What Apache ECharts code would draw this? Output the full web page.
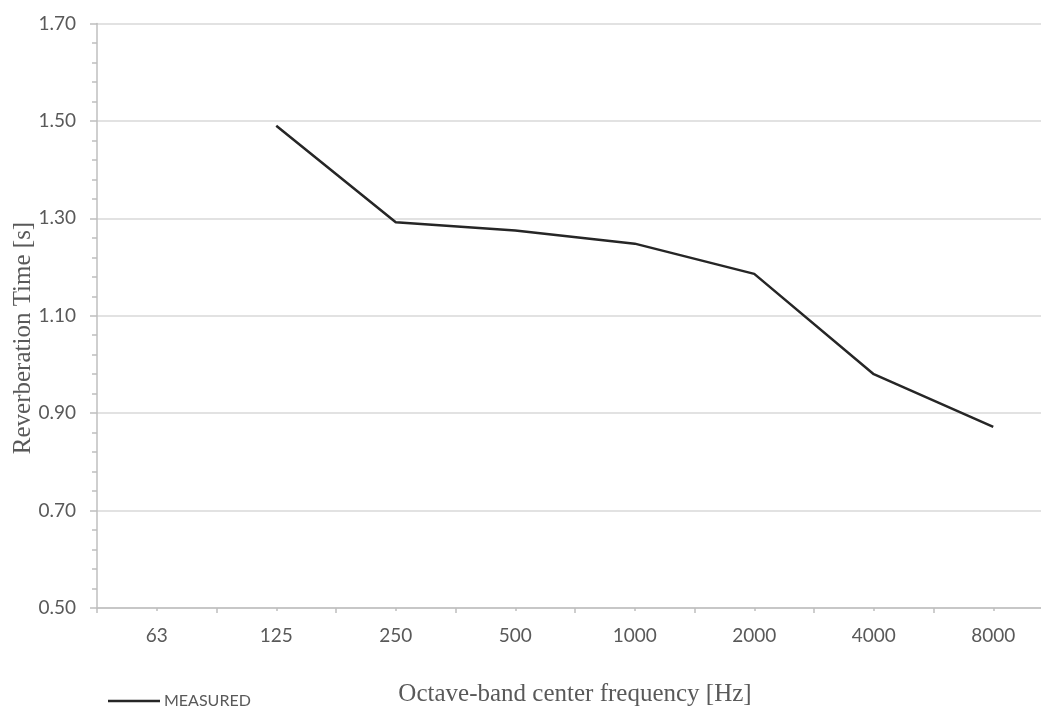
<!DOCTYPE html>
<html>
<head>
<meta charset="utf-8">
<title>Reverberation Time</title>
<script src="https://cdn.jsdelivr.net/npm/echarts@6/dist/echarts.min.js"></script>
<style>
  html, body { margin: 0; padding: 0; background: #ffffff; overflow: hidden; }
  #chart { width: 1041px; height: 708px; }
</style>
</head>
<body>
<div id="chart"></div>
<script>
// Octave-band centre frequencies (Hz)
const bands = ['63', '125', '250', '500', '1000', '2000', '4000', '8000'];
// Measured reverberation time per band (s); no reading at 63 Hz
const measured = [null, 1.49, 1.292, 1.275, 1.248, 1.186, 0.98, 0.872];
// Value axis range
const yMin = 0.5, yMax = 1.7, yStep = 0.2;

const labelFont = 'Lato, "Open Sans", sans-serif';
const titleFont = '"Liberation Serif", "DejaVu Serif", serif';
const textColor = '#595959';

const chart = echarts.init(document.getElementById('chart'), null, { renderer: 'canvas' });

chart.setOption({
  animation: false,
  backgroundColor: '#ffffff',
  // plot runs a little past the right edge of the canvas
  grid: {
    left: 97, width: 956, top: 23.5, height: 584.5,
    containLabel: false, outerBoundsMode: 'none'
  },
  legend: {
    data: ['MEASURED'],
    left: 103, top: 688,
    icon: 'rect', itemWidth: 52, itemHeight: 2.5, itemGap: 6,
    textStyle: { fontFamily: labelFont, fontSize: 16, color: textColor, padding: [0, 0, 0, -1] }
  },
  xAxis: [
    {
      type: 'category',
      data: bands,
      boundaryGap: true,
      axisLine: { lineStyle: { color: '#bfbfbf', width: 1.5 } },
      axisTick: { show: true, length: 5, lineStyle: { color: '#bfbfbf', width: 1.5 } },
      axisLabel: { margin: 18, fontFamily: labelFont, fontSize: 19, color: textColor },
      splitLine: { show: false },
      name: 'Octave-band center frequency [Hz]',
      nameLocation: 'middle',
      nameGap: 74,
      nameTextStyle: { fontFamily: titleFont, fontSize: 25, color: textColor }
    },
    {
      // second copy of the band axis that only draws the short ticks under each label
      type: 'category',
      data: bands,
      position: 'bottom',
      boundaryGap: true,
      axisLine: { show: false },
      axisTick: { show: true, alignWithLabel: true, length: 3, lineStyle: { color: '#bfbfbf', width: 1.5 } },
      axisLabel: { show: false },
      splitLine: { show: false }
    }
  ],
  yAxis: {
    type: 'value',
    min: yMin, max: yMax, interval: yStep,
    axisLine: { show: true, lineStyle: { color: '#bfbfbf', width: 1.5 } },
    axisTick: { show: true, length: 7, lineStyle: { color: '#bfbfbf', width: 1.5 } },
    minorTick: { show: true, splitNumber: 5, length: 5, lineStyle: { color: '#bfbfbf', width: 1.5 } },
    axisLabel: {
      margin: 21, fontFamily: labelFont, fontSize: 19, color: textColor,
      formatter: v => v.toFixed(2)
    },
    splitLine: { show: true, lineStyle: { color: '#d9d9d9', width: 1.5 } }
  },
  graphic: [
    {
      type: 'text',
      x: 23, y: 338,
      rotation: Math.PI / 2,
      style: {
        text: 'Reverberation Time [s]',
        fontFamily: titleFont, fontSize: 25, fill: textColor,
        textAlign: 'center', textVerticalAlign: 'middle'
      }
    }
  ],
  series: [
    {
      name: 'MEASURED',
      type: 'line',
      xAxisIndex: 0,
      data: measured,
      symbol: 'none',
      connectNulls: false,
      lineStyle: { color: '#262626', width: 2.5 },
      itemStyle: { color: '#262626' }
    }
  ]
});
</script>
</body>
</html>
